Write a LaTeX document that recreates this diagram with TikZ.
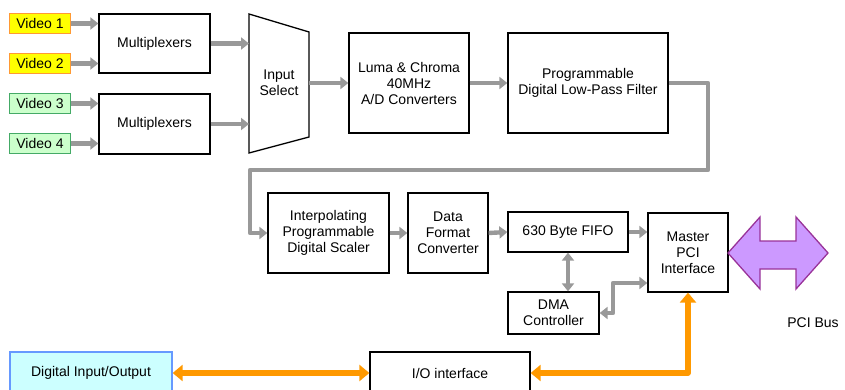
\documentclass[tikz,border=0pt]{standalone}
\usepackage{fontspec}
\setmainfont{Liberation Sans}
\usetikzlibrary{arrows.meta}
\definecolor{flowgray}{HTML}{999999}
\definecolor{busorange}{HTML}{FF9900}
\definecolor{vidyellow}{HTML}{FFFF00}
\definecolor{vidorange}{HTML}{FF9933}
\definecolor{vidgreen}{HTML}{CCFFCC}
\definecolor{vidgreenline}{HTML}{44AA66}
\definecolor{diofill}{HTML}{CCFFFF}
\definecolor{dioline}{HTML}{6699FF}
\definecolor{pcifill}{HTML}{CC99FF}
\definecolor{pciline}{HTML}{993399}
\tikzset{
  lbl/.style={font=\fontsize{14}{16}\selectfont},
  blk/.style={lbl, draw=black, line width=1.3pt, fill=white, align=center,
    inner sep=0pt},
  vidA/.style={lbl, draw=vidorange, fill=vidyellow, line width=1.4pt, inner sep=0pt,
    minimum width=61pt, minimum height=20pt},
  vidB/.style={vidA, draw=vidgreenline, fill=vidgreen},
  flow/.style={draw=flowgray, line width=4.4pt,
    -{Triangle[length=8pt,width=12pt]}},
  flow2/.style={flow, {Triangle[length=8pt,width=12pt]}-{Triangle[length=8pt,width=12pt]}},
  orng/.style={draw=busorange, line width=5.5pt,
    {Triangle[length=10pt,width=16pt]}-{Triangle[length=10pt,width=16pt]}},
}
\begin{document}
\begin{tikzpicture}[x=1pt,y=-1pt]
\useasboundingbox (0,0) rectangle (845,390);
\clip (0,0) rectangle (845,390);

% video inputs
\node[vidA] (v1) at (40,23.5) {Video 1};
\node[vidA] (v2) at (40,63.5) {Video 2};
\node[vidB] (v3) at (40,103.5) {Video 3};
\node[vidB] (v4) at (40,143.5) {Video 4};

% multiplexers
\node[blk, minimum width=111pt, minimum height=59pt] (mux1) at (154.5,43.5) {Multiplexers};
\node[blk, minimum width=111pt, minimum height=60pt] (mux2) at (154.5,124) {Multiplexers};

% input selector (trapezoid)
\draw[line width=1.3pt, fill=white] (249,14) -- (309,32) -- (309,137) -- (249,153) -- cycle;
\node[lbl, align=center] (sel) at (279,83) {Input\\Select};
\coordinate (selL) at (249,83);
\coordinate (selR) at (309,83);

% conversion chain
\node[blk, minimum width=120pt, minimum height=100pt] (luma) at (409,83) {Luma \& Chroma\\40MHz\\A/D Converters};
\node[blk, minimum width=160pt, minimum height=100pt] (filt) at (588,83) {Programmable\\Digital Low-Pass Filter};
\node[blk, minimum width=121pt, minimum height=80pt] (interp) at (328.5,233) {Interpolating\\Programmable\\Digital Scaler};
\node[blk, minimum width=80pt, minimum height=80pt] (dfc) at (448,233) {Data\\Format\\Converter};
\node[blk, minimum width=120pt, minimum height=40pt] (fifo) at (568,232) {630 Byte FIFO};
\node[blk, minimum width=80pt, minimum height=79pt] (master) at (688,252.5) {Master\\PCI\\Interface};
\node[blk, minimum width=91pt, minimum height=42pt] (dma) at (553.5,313) {DMA\\Controller};

% digital I/O
\node[blk, draw=dioline, fill=diofill, minimum width=162pt, minimum height=42pt] (dio) at (91,373) {Digital Input/Output};
\node[blk, minimum width=160pt, minimum height=42pt] (io) at (450,373) {I/O interface};

% PCI bus
\draw[draw=pciline, fill=pcifill, line width=1.3pt]
  (728,253) -- (760,217) -- (760,241) -- (796,241) -- (796,217) -- (828,253)
  -- (796,289) -- (796,269) -- (760,269) -- (760,289) -- cycle;
\node[lbl] (pcibus) at (813,323) {PCI Bus};

% video paths
\draw[flow] (v1.east) -- (v1.east -| mux1.west);
\draw[flow] (v2.east) -- (v2.east -| mux1.west);
\draw[flow] (v3.east) -- (v3.east -| mux2.west);
\draw[flow] (v4.east) -- (v4.east -| mux2.west);
\draw[flow] (mux1.east) -- (mux1.east -| selL);
\draw[flow] (mux2.east) -- (mux2.east -| selL);
\draw[flow] (selR) -- (luma.west);
\draw[flow] (luma.east) -- (filt.west);
\coordinate (r1) at (708,83);
\coordinate (r2) at (708,170);
\coordinate (r3) at (250,170);
\draw[flow, line join=round] (filt.east) -- (r1) -- (r2) -- (r3) -- (r3 |- interp.west) -- (interp.west);
\draw[flow] (interp.east) -- (dfc.west);
\draw[flow] (dfc.east) -- (fifo.west);
\draw[flow] (fifo.east) -- (fifo.east -| master.west);
\draw[flow2] (fifo.south) -- (fifo.south |- dma.north);
\coordinate (d1) at (613,313);
\coordinate (d2) at (613,283);
\draw[flow2, line join=round] (dma.east) -- (d1) -- (d2) -- (d2 -| master.west);

% I/O bus
\coordinate (o1) at (688,373);
\draw[orng] (dio.east) -- (io.west);
\draw[orng, line join=round] (io.east) -- (o1) -- (master.south);
\end{tikzpicture}
\end{document}
